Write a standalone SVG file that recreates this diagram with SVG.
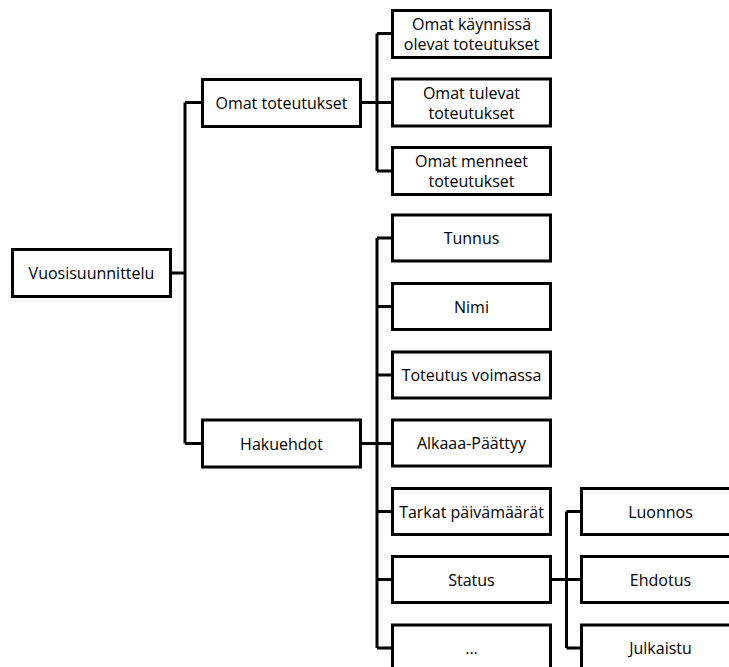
<svg xmlns="http://www.w3.org/2000/svg" width="729" height="667" viewBox="0 0 729 667">
<style>
.box{fill:#fff;stroke:#000;stroke-width:3}
.t{font-family:"Open Sans",Lato,sans-serif;font-size:16px;fill:#000;text-anchor:middle}
.c{fill:none;stroke:#000;stroke-width:3}
</style>
<rect width="729" height="667" fill="#fff"/>
<g id="connectors">
<path class="c" d="M170.5,273 H185 M185,102.5 V443.5 M185,102.5 H202.5 M185,443.5 H202.5"/>
<path class="c" d="M360.5,102.5 H392.5 M377,33.5 V171 M377,33.5 H392.5 M377,171 H392.5"/>
<path class="c" d="M360.5,443.5 H392.5 M377,238 V648 M377,238 H392.5 M377,306.5 H392.5 M377,375 H392.5 M377,511.5 H392.5 M377,579.5 H392.5 M377,648 H392.5"/>
<path class="c" d="M550.5,579.5 H581.5 M566.5,511.5 V648 M566.5,511.5 H581.5 M566.5,648 H581.5"/>
</g>
<g id="n-vuosi"><rect class="box" x="12.5" y="249.5" width="158" height="47"/><text class="t" x="91.5" y="279">Vuosisuunnittelu</text></g>
<g id="n-omat"><rect class="box" x="202.5" y="79.5" width="158" height="47"/><text class="t" x="281.5" y="109">Omat toteutukset</text></g>
<g id="n-haku"><rect class="box" x="202.5" y="420" width="158" height="47"/><text class="t" x="281.5" y="449.5">Hakuehdot</text></g>
<g id="n-kaynnissa"><rect class="box" x="392.5" y="10.5" width="158" height="47"/><text class="t" x="471.5" y="30">Omat käynnissä</text><text class="t" x="471.5" y="50">olevat toteutukset</text></g>
<g id="n-tulevat"><rect class="box" x="392.5" y="79" width="158" height="47"/><text class="t" x="471.5" y="98.5">Omat tulevat</text><text class="t" x="471.5" y="118.5">toteutukset</text></g>
<g id="n-menneet"><rect class="box" x="392.5" y="147.5" width="158" height="47"/><text class="t" x="471.5" y="167">Omat menneet</text><text class="t" x="471.5" y="187">toteutukset</text></g>
<g id="n-tunnus"><rect class="box" x="392.5" y="215" width="158" height="46"/><text class="t" x="471.5" y="244">Tunnus</text></g>
<g id="n-nimi"><rect class="box" x="392.5" y="283.5" width="158" height="46"/><text class="t" x="471.5" y="312.5">Nimi</text></g>
<g id="n-voimassa"><rect class="box" x="392.5" y="352" width="158" height="46"/><text class="t" x="471.5" y="381">Toteutus voimassa</text></g>
<g id="n-alkaa"><rect class="box" x="392.5" y="420" width="158" height="46"/><text class="t" x="471.5" y="449">Alkaaa-Päättyy</text></g>
<g id="n-tarkat"><rect class="box" x="392.5" y="488.5" width="158" height="46"/><text class="t" x="471.5" y="517.5">Tarkat päivämäärät</text></g>
<g id="n-status"><rect class="box" x="392.5" y="556.5" width="158" height="46"/><text class="t" x="471.5" y="585.5">Status</text></g>
<g id="n-more"><rect class="box" x="392.5" y="625" width="158" height="46"/><text class="t" x="471.5" y="654">...</text></g>
<g id="n-luonnos"><rect class="box" x="581.5" y="488.5" width="158" height="46"/><text class="t" x="660.5" y="517.5">Luonnos</text></g>
<g id="n-ehdotus"><rect class="box" x="581.5" y="556.5" width="158" height="46"/><text class="t" x="660.5" y="585.5">Ehdotus</text></g>
<g id="n-julkaistu"><rect class="box" x="581.5" y="625" width="158" height="46"/><text class="t" x="660.5" y="654">Julkaistu</text></g>
</svg>
